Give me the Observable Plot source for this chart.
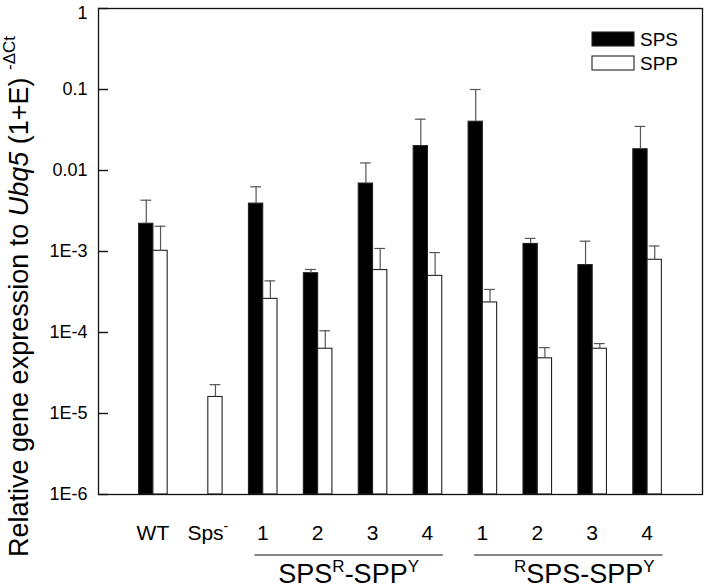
<!DOCTYPE html>
<html><head><meta charset="utf-8">
<script src="https://cdn.jsdelivr.net/npm/d3@7"></script>
<script src="https://cdn.jsdelivr.net/npm/@observablehq/plot@0.6"></script>
<style>body{margin:0;background:#fff} svg{display:block}</style>
</head><body><div id="chart"></div>
<script>
// ---- data ----
const categories = ["WT", "Sps", "1", "2", "3", "4", "1", "2", "3", "4"];
const categorySup = ["", "-", "", "", "", "", "", "", "", ""];
const spsMean = [2.2e-3, null, 3.9e-3, 5.4e-4, 6.9e-3, 0.020, 0.040, 1.24e-3, 6.8e-4, 0.0183];
const spsSD   = [2.1e-3, null, 2.4e-3, 6.0e-5, 5.5e-3, 0.023, 0.060, 2.1e-4, 6.6e-4, 0.0167];
const sppMean = [1.02e-3, 1.6e-5, 2.6e-4, 6.3e-5, 5.9e-4, 5.0e-4, 2.35e-4, 4.8e-5, 6.3e-5, 7.9e-4];
const sppSD   = [1.03e-3, 6.7e-6, 1.74e-4, 4.2e-5, 5.0e-4, 4.7e-4, 1.05e-4, 1.7e-5, 1.0e-5, 3.8e-4];
const seriesNames = ["SPS", "SPP"];
const yTicks = [1e-6, 1e-5, 1e-4, 1e-3, 1e-2, 1e-1, 1];
const yTickLabels = ["1E-6", "1E-5", "1E-4", "1E-3", "0.01", "0.1", "1"];
const groupFirst = [2, 6];
const groupLast = [5, 9];
const groupTitles = [
  [{t: "SPS"}, {t: "R", sup: true}, {t: "-SPP"}, {t: "Y", sup: true}],
  [{t: "R", sup: true}, {t: "SPS-SPP"}, {t: "Y", sup: true}]
];

// ---- layout ----
const FONT = "'Liberation Sans', Arial, Helvetica, sans-serif";
const W = 704, H = 588, ML = 98, MR = 2, MT = 8, MB = 94;
const SLOTS = 11;
const slotPx = (W - ML - MR) / SLOTS;
const BW = 0.26;      // bar width in slot units
const CAP = 0.098;    // half cap width
const TICK = 10 / slotPx;

const rows = [];
categories.forEach((c, i) => {
  if (spsMean[i] != null) rows.push({pos: i + 1, series: "SPS", value: spsMean[i], sd: spsSD[i]});
  if (sppMean[i] != null) rows.push({pos: i + 1, series: "SPP", value: sppMean[i], sd: sppSD[i]});
});
const ctr = d => d.pos + (d.series === "SPS" ? -BW / 2 : BW / 2);
const fmt = d => yTickLabels[yTicks.indexOf(d)];

const plot = Plot.plot({
  width: W, height: H,
  marginTop: MT, marginBottom: MB, marginLeft: ML, marginRight: MR,
  style: {fontFamily: FONT, background: "#fff", color: "#000"},
  x: {domain: [0, SLOTS], axis: null},
  y: {type: "log", domain: [1e-6, 1]},
  color: {domain: seriesNames, range: ["#000", "#fff"]},
  marks: [
    Plot.rect(rows, {
      x1: d => d.pos + (d.series === "SPS" ? -BW : 0),
      x2: d => d.pos + (d.series === "SPS" ? 0 : BW),
      y1: 1e-6, y2: "value",
      fill: "series", stroke: "#222", strokeWidth: 1.1
    }),
    Plot.ruleX(rows, {x: ctr, y1: "value", y2: d => d.value + d.sd, stroke: "#555", strokeWidth: 1.2}),
    Plot.ruleY(rows, {y: d => d.value + d.sd, x1: d => ctr(d) - CAP, x2: d => ctr(d) + CAP, stroke: "#555", strokeWidth: 1.2}),
    Plot.ruleY(yTicks, {y: d => d, x1: 0, x2: TICK, stroke: "#111", strokeWidth: 1.4}),
    Plot.axisY(yTicks.slice(0, -1), {tickSize: 0, tickPadding: 11, fontSize: 18, label: null, tickFormat: fmt, fill: "#000"}),
    Plot.axisY(yTicks.slice(-1), {tickSize: 0, tickPadding: 11, fontSize: 18, label: null, tickFormat: fmt, fill: "#000", dy: 5}),
    Plot.frame({stroke: "#111", strokeWidth: 1.3})
  ]
});

document.getElementById("chart").appendChild(plot);

const svg = d3.select(plot);
const xs = plot.scale("x");

// x tick labels
categories.forEach((c, i) => {
  const t = svg.append("text")
    .attr("x", xs.apply(i + 1)).attr("y", 540)
    .attr("text-anchor", "middle")
    .attr("font-family", FONT).attr("font-size", 21).attr("fill", "#000");
  t.append("tspan").text(c);
  if (categorySup[i]) t.append("tspan").attr("font-size", 14).attr("dy", -9).text(categorySup[i]);
});

// group underlines and titles
groupFirst.forEach((g0, k) => {
  const xa = xs.apply(g0 + 1 - 0.15), xb = xs.apply(groupLast[k] + 1 + 0.28);
  svg.append("line").attr("x1", xa).attr("x2", xb).attr("y1", 555).attr("y2", 555)
    .attr("stroke", "#111").attr("stroke-width", 1.2);
  const t = svg.append("text")
    .attr("x", (xa + xb) / 2 + (k === 1 ? 16 : 0)).attr("y", 583)
    .attr("text-anchor", "middle")
    .attr("font-family", FONT).attr("font-size", 27).attr("fill", "#000");
  let raised = false;
  groupTitles[k].forEach(p => {
    const s = t.append("tspan").text(p.t);
    if (p.sup) { s.attr("font-size", 17).attr("dy", raised ? 0 : -11); raised = true; }
    else { s.attr("font-size", 27).attr("dy", raised ? 11 : 0); raised = false; }
  });
});

// y-axis title
{
  const t = svg.append("text")
    .attr("transform", "translate(28,557) rotate(-90)")
    .attr("text-anchor", "start")
    .attr("font-family", FONT).attr("font-size", 27).attr("fill", "#000");
  t.append("tspan").text("Relative gene expression to ");
  t.append("tspan").attr("font-style", "italic").text("Ubq5");
  t.append("tspan").text(" (1+E) ");
  t.append("tspan").attr("font-size", 17).attr("dy", -13).text("-ΔCt");
}

// legend
seriesNames.forEach((s, k) => {
  svg.append("rect").attr("x", 592).attr("y", 32 + k * 24).attr("width", 42).attr("height", 14)
    .attr("fill", plot.scale("color").apply(s)).attr("stroke", "#222").attr("stroke-width", 1.1);
  svg.append("text").attr("x", 640).attr("y", 46 + k * 24)
    .attr("text-anchor", "start")
    .attr("font-family", FONT).attr("font-size", 19).attr("fill", "#000").text(s);
});
</script>
</body></html>
